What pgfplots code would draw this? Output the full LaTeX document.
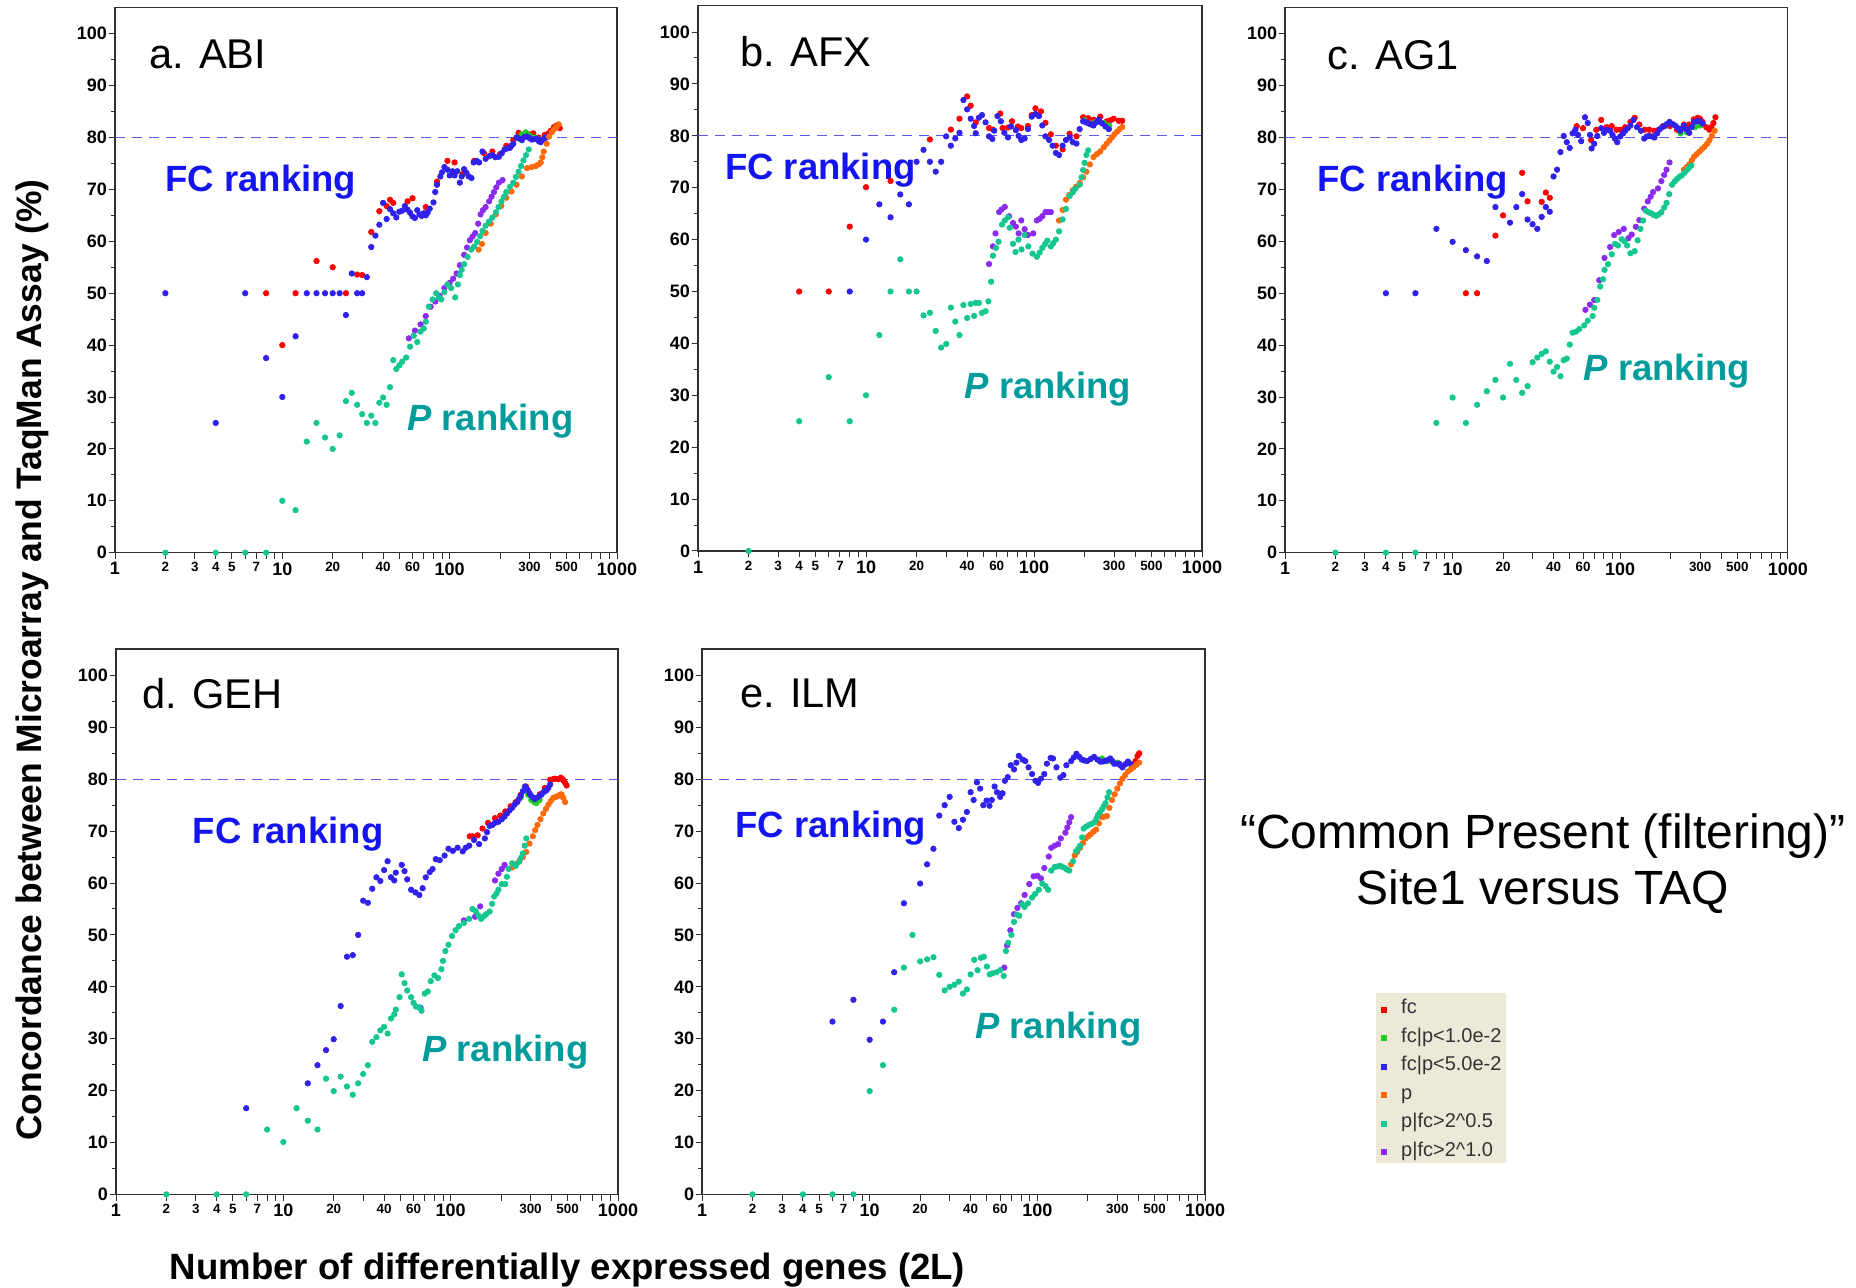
\documentclass[border=0pt]{standalone}
\usepackage{fontspec}
\setmainfont{Liberation Sans}
\usepackage{xcolor}
\usepackage{pgfplots}
\pgfplotsset{compat=1.18}

\definecolor{cFC}{HTML}{FF0000}
\definecolor{cG}{HTML}{22CC22}
\definecolor{cB}{HTML}{3022EA}
\definecolor{cO}{HTML}{FF6A08}
\definecolor{cT}{HTML}{14C690}
\definecolor{cPu}{HTML}{8B2BF0}
\definecolor{cFCtxt}{HTML}{1414F0}
\definecolor{cPtxt}{HTML}{009C9C}
\definecolor{axgray}{HTML}{303030}
\definecolor{dashc}{HTML}{5A5AE6}
\definecolor{legbg}{HTML}{ECE9D8}

\newcommand\XB[1]{{\fontsize{9}{9}\selectfont #1}}

\tikzset{
  ptitle/.style={anchor=base west, inner sep=0pt, font=\fontsize{20.8}{20.8}\selectfont},
  fclab/.style={anchor=base west, inner sep=0pt, text=cFCtxt, font=\bfseries\fontsize{18.25}{18.25}\selectfont},
  plab/.style={anchor=base west, inner sep=0pt, text=cPtxt, font=\bfseries\fontsize{18.25}{18.25}\selectfont},
}
\pgfplotsset{
  abpanel/.style={
    scale only axis, clip=false,
    xmin=1, xmax=1000, ymin=0, ymax=105.1,
    axis line style={draw=axgray, line width=0.6pt},
    tick align=outside, tick pos=left,
    major tick length=3.2pt, minor tick length=2pt,
    tick style={draw=axgray, line width=0.5pt},
    ytick={0,10,...,100}, minor ytick={5,15,...,95},
    xtick={1,2,3,4,5,6,7,8,9,10,20,30,40,50,60,70,80,90,100,200,300,400,500,600,700,800,900,1000},
    xticklabels={\XB{1},2,3,4,5,{},7,{},{},\XB{10},20,{},40,{},60,{},{},{},\XB{100},{},300,{},500,{},{},{},{},\XB{1000}},
    /pgf/number format/assume math mode=true,
    yticklabel style={font=\bfseries\fontsize{9}{9}\selectfont, inner xsep=0.6pt},
    xticklabel style={font=\bfseries\fontsize{6.7}{6.7}\selectfont, inner ysep=1.5pt},
  },
  sdot/.style={only marks, mark=*, mark size=1.35pt, color=#1, mark options={draw=none, fill=#1}, forget plot},
  refline/.style={dashc, line width=0.5pt, dash pattern=on 5pt off 3.5pt, forget plot},
}

\begin{document}
\begin{tikzpicture}
\path (0pt,0pt) rectangle (928pt,644pt);

% ---------------- a. ABI
\begin{semilogxaxis}[abpanel, at={(57.5pt,367.65pt)}, anchor=south west, width=251pt, height=272.7pt]
\addplot[refline] coordinates {(1,80) (1000,80)};
\addplot[sdot=cFC] coordinates {(8,50) (10,40) (12,50) (16,56.2) (20,55) (24,50) (28,53.6) (30,53.5) (34,61.8) (38,65.8) (42,66.8) (44,68) (46,67.4) (56,67.7) (60,68.3) (72,66.6) (84,71.5) (97,75.5) (107,75.2) (120,73) (140,75.5) (160,77) (180,77.3) (200,76.8) (218,78.4) (240,79.5) (258,80.9) (280,80.5) (300,80.6) (316,80.8) (340,80) (370,80.5) (390,80.8) (402,81.3) (420,82) (435,82.3) (447,82.5) (455,81.8)};
\addplot[sdot=cG] coordinates {(250,80) (270,80.6) (285,81) (300,80.4) (320,80) (340,79.6)};
\addplot[sdot=cB] coordinates {(2,50) (4,25) (6,50) (8,37.5) (10,30) (12,41.7) (14,50) (16,50) (18,50) (20,50) (22,50) (24,45.8) (26,53.8) (28,50) (30,50) (32,53.1) (34,58.9) (36,61.1) (38,63.2) (40,67.4) (42,64.3) (44,66.2) (46,65.4) (48,64.6) (50,65.7) (52,65.9) (54,66.8) (56,66.1) (58,65.5) (60,64.8) (62,64.5) (64,66) (66,65.2) (68,64.9) (70,65.4) (72,65.0) (74,65.6) (76,66.3) (80,67.5) (82,69.5) (84,70.9) (88,72.5) (90,73.3) (93,74.3) (97,73.8) (100,72.7) (104,73.5) (107,72.7) (111,73.5) (115,71.3) (118,72.5) (122,73.9) (126,73.2) (130,72.5) (135,72.2) (139,75.2) (145,75.5) (150,75.2) (157,77.3) (164,75.9) (172,76.4) (180,76.6) (188,76.2) (197,76.3) (205,77) (213,77.7) (221,77.9) (229,78) (235,78.5) (240,78.8) (251,80.0) (260,79.8) (270,79.5) (280,80.1) (290,80.2) (300,79.9) (310,79.6) (322,79.7) (333,79.8) (341,79.3) (350,79.1) (360,79.6) (370,79.8) (378,80.1) (385,80.2)};
\addplot[sdot=cO] coordinates {(149,58.4) (156,59.5) (164,61.6) (176,63.4) (189,65.2) (203,66.8) (218,68.4) (234,69.6) (251,70.9) (270,72.5) (290,74.1) (308,74.3) (326,74.5) (340,74.8) (350,75.2) (358,76.2) (365,77.3) (380,78.8) (393,80.2) (407,81) (420,81.6) (435,82.1) (447,82.5)};
\addplot[sdot=cPu] coordinates {(57,41.3) (62,42.8) (67,44) (72,45.6) (77,47.4) (82,48.4) (87,49.5) (93,51) (100,52) (105,52.8) (110,53.8) (115,55.4) (122,57.4) (127,58.8) (132,60.2) (137,60.9) (142,61.6) (148,63.4) (153,65.2) (158,66) (164,66.6) (172,67.7) (178,68.6) (184,69.5) (190,70.4) (197,71.3) (207,71.8)};
\addplot[sdot=cT] coordinates {(2,0) (4,0) (6,0) (8,0) (10,10) (12,8.2) (14,21.4) (16,25) (18,22.2) (20,20) (22,22.6) (24,29.2) (26,30.8) (28,28.5) (30,26.7) (32,25) (34,26.4) (36,25) (38,28.9) (40,29.9) (42,28.5) (44,31.9) (46,37.1) (48,35.4) (50,36.1) (52,36.8) (55,37.6) (58,39.7) (61,41.8) (64,40.6) (67,42.6) (70,43.2) (72,44.5) (75,47.4) (79,48.8) (83,50) (86,49.2) (89,48.8) (93,50.2) (97,51.7) (102,51) (108,49.2) (112,51.7) (115,53.5) (118,54.5) (122,55.6) (128,57) (135,58.4) (140,59) (146,59.9) (152,61) (157,62) (164,63) (172,63.8) (180,64.6) (189,65.6) (196,66.6) (204,67.7) (211,68.6) (218,69.5) (229,70.5) (240,71.3) (249,72.4) (258,73.4) (267,74.5) (276,75.6) (286,76.6) (297,77.7)};
\node[ptitle] at (rel axis cs:0.067,0.887) {a. ABI};
\node[fclab] at (rel axis cs:0.10,0.663) {FC ranking};
\node[plab] at (rel axis cs:0.581,0.224) {\textit{P} ranking};
\end{semilogxaxis}

% ---------------- b. AFX
\begin{semilogxaxis}[abpanel, at={(349pt,368.5pt)}, anchor=south west, width=252pt, height=272.7pt]
\addplot[refline] coordinates {(1,80) (1000,80)};
\addplot[sdot=cFC] coordinates {(4,50) (6,50) (8,62.5) (10,70.1) (14,71.3) (24,79.3) (32,81.2) (36,83.3) (40,87.6) (42,85.8) (45,82.6) (54,81.5) (57,81.2) (63,84.3) (65,81.5) (70,81.6) (74,82.8) (80,81.8) (84,81.5) (92,81.9) (97,84) (102,85.3) (110,84.7) (117,82.5) (126,80.3) (135,78.1) (148,77.4) (163,80.4) (179,79.9) (196,83.6) (210,83.4) (226,83.1) (248,83.7) (271,82.8) (285,83) (298,83.3) (320,82.9) (335,82.9)};
\addplot[sdot=cG] coordinates {(200,83) (230,82.6) (260,82.5) (280,82)};
\addplot[sdot=cB] coordinates {(8,50) (10,60) (12,66.8) (14,64.3) (16,68.7) (18,66.8) (20,75) (22,77.3) (24,75) (26,73.1) (28,75) (30,79.9) (32,78.1) (34,79.5) (36,80.6) (38,86.9) (40,85.1) (42,83.3) (44,81.9) (45,80.5) (47,83.5) (49,84) (51.5,82.6) (54,79.9) (56.5,79.4) (58,81) (60.6,83.8) (63.5,82.8) (66.6,80.6) (70,79.7) (73,81.8) (78,81.1) (81,80) (84,79.2) (88,79.5) (92,81.3) (97,83.7) (102,84.2) (107,83.8) (112,82) (117,79.9) (123,79.2) (129,78.1) (135,76.7) (141,76.3) (148,78.1) (155,79.2) (163,79.7) (170,78.8) (179,78.5) (187,81.3) (196,82.8) (204,82.6) (211,82.4) (218,82.2) (226,82) (235,82.6) (243,83.1) (254,82.4) (266,81.8) (279,81.3)};
\addplot[sdot=cO] coordinates {(141,63.7) (148,65.7) (155,67.7) (162,68.6) (170,69.5) (178,70.2) (187,70.9) (196,72) (205,73.1) (215,74.5) (226,75.9) (237,76.5) (248,77) (260,77.8) (271,78.5) (281,79.1) (291,79.7) (301,80.3) (312,80.8) (323,81.3) (335,81.7)};
\addplot[sdot=cPu] coordinates {(54,55.3) (57,58.7) (59,61.2) (62,65.3) (64,65.8) (67,66.3) (71,64.5) (75,63.2) (78,62.5) (81,61.2) (84,63.7) (88,62) (92,60.9) (99,61.2) (104,63.7) (108,64) (112,64.5) (117,65.3) (121,65.3) (126,65.3)};
\addplot[sdot=cT] coordinates {(2,0) (4,25) (6,33.5) (8,25) (10,30) (12,41.6) (14,50) (16,56.2) (18,50) (20,50) (22,45.4) (24,45.9) (26,42.4) (28,39.2) (30,39.9) (32,46.9) (34,44.2) (36,41.6) (38,47.4) (40,44.9) (42,47.6) (44,45.3) (45,47.8) (47,47.8) (49,45.9) (51.5,46.2) (53.5,48.1) (55.5,51.9) (57,56.9) (59.4,58.4) (61.5,59.6) (64.5,62.9) (67,63.7) (70,64.3) (71.7,62.3) (75,59.2) (77.6,57.6) (80.8,60) (84.3,58.1) (88,60.9) (92.5,58.7) (98,57.3) (104,56.7) (108,57.5) (112,58.4) (116,59.1) (120,59.8) (126,58.7) (130,59.3) (135,60) (141,61.6) (148,63.9) (155,65.9) (163,68.4) (170,69.1) (176,69.8) (187,70.6) (192,72) (196,73.4) (200,74.8) (205,76.3) (210,77.2)};
\node[ptitle] at (rel axis cs:0.083,0.888) {b. AFX};
\node[fclab] at (rel axis cs:0.053,0.681) {FC ranking};
\node[plab] at (rel axis cs:0.528,0.280) {\textit{P} ranking};
\end{semilogxaxis}

% ---------------- c. AG1
\begin{semilogxaxis}[abpanel, at={(642.5pt,367.65pt)}, anchor=south west, width=251.4pt, height=272.7pt]
\addplot[refline] coordinates {(1,80) (1000,80)};
\addplot[sdot=cFC] coordinates {(12,50) (14,50) (18,61.1) (20,65) (26,73.2) (28,67.7) (34,67.6) (36,69.4) (38,68.4) (55,82.2) (60,81.8) (67,79.5) (72,81.5) (77,83.4) (83,82) (89,82.2) (95,81.5) (100,81.5) (107,82) (115,83) (122,83.8) (130,82.5) (140,81.5) (149,81.5) (160,81.3) (170,81.5) (180,82.2) (198,82.2) (218,81.5) (240,82.5) (258,82.5) (275,83.5) (290,83.8) (300,83.6) (310,83) (326,82) (340,81.5) (350,82) (360,82.8) (370,83.9)};
\addplot[sdot=cG] coordinates {(229,80.8) (250,81) (280,82) (300,82.3)};
\addplot[sdot=cB] coordinates {(4,50) (6,50) (8,62.4) (10,59.9) (12,58.3) (14,57.1) (16,56.2) (18,66.6) (22,63.6) (24,66.6) (26,69.1) (28,64.2) (30,63.3) (32,62.4) (34,64.7) (36,66.6) (38,65.7) (40,72.5) (42,73.8) (44,77.2) (46,80.3) (48,79.1) (50,78) (52,80.8) (54,81.5) (56,80.5) (58.5,79.3) (61.6,83.9) (64,82.8) (66,80.5) (67.5,77.9) (70,78.8) (73,80.3) (77,81.8) (80,80.9) (83,81.5) (87,81.3) (90,80.5) (93,79.8) (96,79.1) (100,80.2) (104,80.8) (107,81.3) (111,81.8) (115,82.3) (120,83.4) (126,82) (133,81.3) (139,79.8) (144,80.2) (149,80.3) (155,80.2) (160,80) (166,80.8) (172,81.6) (178,82) (184,82.2) (190,82.6) (197,83) (205,82.6) (213,82.3) (221,81.8) (229,81.3) (235,81.8) (240,82.3) (250,81.5) (258,80.9) (267,82) (276,83) (287,83.1) (297,83.2) (310,82.7)};
\addplot[sdot=cO] coordinates {(240,73.8) (249,74.3) (258,74.8) (267,75.6) (276,76.3) (286,76.8) (297,77.3) (308,77.8) (318,78.2) (330,78.8) (341,79.5) (352,80.3) (366,81.3)};
\addplot[sdot=cPu] coordinates {(62,46.8) (66,47.8) (70,48.7) (75,52.5) (80.6,56.8) (87,58.9) (92,61.2) (98,61.8) (105,62.4) (112,60.6) (117,61.3) (124,62.8) (130,64.1) (139,66.3) (146,67.7) (152,68.6) (157,69.5) (168,70.2) (176,71.6) (183,72.8) (189,73.8) (197,75.2)};
\addplot[sdot=cT] coordinates {(2,0) (4,0) (6,0) (8,25) (10,29.9) (12,25) (14,28.5) (16,31.1) (18,33.3) (20,29.9) (22,36.4) (24,33.3) (26,30.8) (28,32.1) (30,36.7) (32,37.6) (34,38.3) (36,38.8) (38,36.8) (40,34.9) (42,35.8) (44,34) (46,37.1) (48,37.4) (50,40.1) (52,42.4) (54.5,42.6) (57,43.1) (61,43.8) (64,44.7) (68.5,45.6) (70,47.2) (73,48.7) (76,51.3) (79,52.7) (80.6,54.5) (84.5,55.6) (89,57.5) (93,59.5) (97,59.2) (102,60.4) (106,60) (110,59.2) (115,57.7) (122,58.1) (127,60.2) (132,62.4) (137,64) (142,65.9) (148,65.6) (153,65.4) (158,65.1) (164,64.9) (170,65.2) (176,65.6) (183,66.5) (189,67.4) (196,69.1) (204,70.9) (211,71.5) (218,72) (225,72.4) (233,72.7) (242,73.2) (251,73.8) (258,74.2) (265,74.6)};
\node[ptitle] at (rel axis cs:0.084,0.886) {c. AG1};
\node[fclab] at (rel axis cs:0.064,0.663) {FC ranking};
\node[plab] at (rel axis cs:0.593,0.315) {\textit{P} ranking};
\end{semilogxaxis}

% ---------------- d. GEH
\begin{semilogxaxis}[abpanel, at={(58pt,46.8pt)}, anchor=south west, width=251pt, height=272.7pt]
\addplot[refline] coordinates {(1,80) (1000,80)};
\addplot[sdot=cFC] coordinates {(130,69) (135,69) (145,69.2) (155,70.5) (167,71.6) (184,72.5) (198,73) (212,73.8) (228,74.8) (245,75.6) (262,77) (282,78.6) (341,77.1) (365,78.3) (393,79.9) (408,80) (420,80.1) (438,80) (455,80.3) (465,80) (474,79.7) (483,79.3) (493,78.8)};
\addplot[sdot=cG] coordinates {(262,76.5) (280,78) (290,77) (303,76) (315,75.6) (325,75.4) (340,76)};
\addplot[sdot=cB] coordinates {(6,16.6) (14,21.4) (16,24.9) (18,27.8) (20,29.9) (22,36.3) (24,45.8) (26,46.1) (28,50) (30,56.6) (32,56.2) (34,58.9) (36,61.1) (38,60.4) (40,62.5) (42,64.2) (44,61.1) (46,60.5) (47,62) (51,63.5) (53,62.3) (55,60.7) (58,58.7) (61.6,58.2) (65,57.7) (68,59) (71,61.1) (75,62.1) (78,62.7) (81.5,64.6) (86,64.4) (92,65.3) (97,66.6) (103,66.2) (110,66.8) (118,66.1) (123,66.8) (129,67.2) (138,68.3) (148,67.5) (160,68.6) (165,69.8) (171,71) (178,71.2) (184,71.6) (193,71.8) (202,72.3) (210,72.8) (217,73.4) (225,74) (233,74.5) (241,75.1) (250,75.6) (256,76.2) (262,76.8) (270,77.7) (278,78.6) (284,78.2) (289,77.9) (296,77.3) (303,76.8) (310,76.5) (318,76.2) (330,76.5) (341,76.8) (350,77.1) (358,77.5) (366,77.7) (375,77.9) (384,78.4) (393,79)};
\addplot[sdot=cO] coordinates {(233,63) (245,63.6) (258,64.3) (270,65) (283,66) (296,67.6) (310,69) (320,70.2) (330,71.2) (344,72.3) (358,73.4) (371,74.3) (384,75.1) (397,75.8) (410,76.4) (425,76.6) (440,76.8) (450,77) (459,77.1) (471,76.4) (483,75.6)};
\addplot[sdot=cPu] coordinates {(66,36) (120,52.8) (140,53.5) (150,55.5) (184,60.5) (193,61.8) (202,62.7) (210,63.5)};
\addplot[sdot=cT] coordinates {(2,0) (4,0) (6,0) (8,12.5) (10,10.1) (12,16.6) (14,14.2) (16,12.5) (18,22.3) (20,19.9) (22,22.7) (24,20.8) (26,19.2) (28,21.4) (30,23.2) (32,24.9) (34,29.4) (36,30.3) (38,31.6) (40,32.3) (42,31) (44,33.9) (46,34.7) (47,35.6) (49.5,38) (51,42.4) (53,40.7) (55,39.3) (58,38) (60,36.9) (62,36.2) (65,36) (67,35.4) (70,38.7) (73,39.1) (76,41.1) (80,42.2) (84,41.7) (88,43.4) (90,45) (93,46.9) (97,48.1) (102,49.8) (107,50.9) (112,51.7) (120,52.3) (129,53.1) (135,55) (141,54.6) (146,53.8) (152,53.1) (158,53.6) (163,54) (171,54.5) (177,56) (182,57.4) (188,58) (193,58.7) (202,59.8) (212,59.8) (217,61.2) (222,62.7) (233,63.8) (245,63.3) (257,64.1) (264,64.9) (270,65.7) (277,67.2) (283,68.6)};
\node[ptitle] at (rel axis cs:0.051,0.891) {d. GEH};
\node[fclab] at (rel axis cs:0.152,0.644) {FC ranking};
\node[plab] at (rel axis cs:0.609,0.244) {\textit{P} ranking};
\end{semilogxaxis}

% ---------------- e. ILM
\begin{semilogxaxis}[abpanel, at={(351pt,46.8pt)}, anchor=south west, width=251.5pt, height=272.7pt,
  legend style={at={(1.34,0.3698)}, anchor=north west, fill=legbg, draw=none,
    font=\fontsize{10}{10}\selectfont, text=black!80, inner xsep=2.1pt, inner ysep=1.5pt,
    row sep=3.5pt, /tikz/every odd column/.append style={column sep=7.4pt},
    nodes={inner sep=0pt, anchor=base west, text height=8.8pt, text depth=1.95pt}},
  legend cell align=left,
  legend image code/.code={\fill[#1] (0pt,0.75pt) rectangle (2.5pt,3.25pt);}]
\addlegendimage{cFC}\addlegendentry{fc}
\addlegendimage{cG}\addlegendentry{fc|p<1.0e-2}
\addlegendimage{cB}\addlegendentry{fc|p<5.0e-2}
\addlegendimage{cO}\addlegendentry{p}
\addlegendimage{cT}\addlegendentry{p|fc>2\^{}0.5}
\addlegendimage{cPu}\addlegendentry{p|fc>2\^{}1.0}
\addplot[refline] coordinates {(1,80) (1000,80)};
\addplot[sdot=cFC] coordinates {(375,82.7) (385,83.5) (396,84.5) (405,85)};
\addplot[sdot=cG] coordinates {(243,84) (260,83.5) (278,83.5) (300,83.2)};
\addplot[sdot=cB] coordinates {(6,33.3) (8,37.5) (10,29.8) (12,33.3) (14,42.8) (16,56.1) (20,59.9) (22,63.6) (24,66.6) (26,73) (28,75) (30,76.6) (32,71.8) (34,70.6) (36,72.2) (38,73.7) (40,77.5) (41.7,76) (43.6,79.4) (45.6,78.2) (47.6,75) (49.8,75.9) (51.8,74.9) (53.5,76) (55.6,78.6) (57.5,77.5) (60,76.6) (62,77.3) (64,79.7) (66.6,80.4) (69.4,82.7) (72.6,81.9) (75,83.2) (77.5,84.5) (81.5,83.8) (84.7,83.5) (88.6,82.3) (93,81) (97.5,79.7) (101,79.3) (105,80.1) (110,81) (114,83) (120,84.1) (124,84) (130,82.3) (137,80.3) (143,80.8) (149,82.7) (159,83.5) (165,84.2) (171,84.9) (178,84.3) (184,83.8) (191,83.6) (198,83.5) (208,83.9) (218,84.3) (228,83.8) (237,83.4) (245,83.4) (253,83.5) (262,83.7) (272,84) (280,83.5) (287,83) (298,83) (308,83) (315,82.6) (322,82.3) (335,82.9) (347,83.4) (357,83) (367,82.7)};
\addplot[sdot=cO] coordinates {(159,63.6) (167,65.3) (173,66) (180,66.8) (187,67.7) (194,68.6) (201,69) (208,69.4) (216,69.9) (224,70.3) (233,71.5) (243,72.7) (251,72.8) (260,72.9) (269,74.5) (279,76) (289,77.1) (300,78.2) (311,79.2) (322,80.1) (334,80.8) (347,81.5) (361,81.9) (375,82.3) (390,82.8) (405,83.2)};
\addplot[sdot=cPu] coordinates {(63.5,43.7) (66,48) (69,50.9) (72.6,54) (76,55.2) (80,56.1) (84,57.7) (89.5,59.8) (95,61.3) (100,61.4) (105,60.9) (110,62.9) (117,65.1) (121,66.8) (127,67.2) (133,67.5) (138,68.6) (147,69.7) (151,70.7) (155,71.7) (159,72.7)};
\addplot[sdot=cT] coordinates {(2,0) (4,0) (6,0) (8,0) (10,19.9) (12,24.9) (14,35.6) (16,43.7) (18,50) (20,44.9) (22,45.3) (24,45.7) (26,42.3) (28,39.3) (30,40) (32,40.4) (34,41) (36,38.7) (38,39.5) (40,42.4) (42,45.2) (44,43.2) (46,45.6) (48,45.8) (50,43.9) (52,42.4) (54,42.6) (57,42.8) (60,43.2) (63,42.1) (65,46.9) (67,48.5) (70,50) (72.6,52.5) (75.5,53.9) (78,53.7) (81,55.9) (84,55.4) (88,56.1) (93,57.2) (97,57.9) (102,58.7) (107,59.9) (112,59.4) (116,58.7) (121,62.4) (127,63.1) (132,63.2) (137,63.3) (141,63.1) (146,62.9) (150,62.6) (155,62.4) (163,64.2) (170,66.1) (175,66.6) (180,67.2) (185,68.8) (189,70.5) (196,70.9) (203,71.2) (211,71.4) (219,71.7) (225,72.4) (230,73.1) (236,73.6) (243,74.2) (249,74.8) (255,75.4) (262,76.5) (268,77.5)};
\node[ptitle] at (rel axis cs:0.075,0.892) {e. ILM};
\node[fclab] at (rel axis cs:0.066,0.654) {FC ranking};
\node[plab] at (rel axis cs:0.542,0.285) {\textit{P} ranking};
\end{semilogxaxis}

% figure-level texts
\node[rotate=90, anchor=base, inner sep=0pt, font=\bfseries\fontsize{17.7}{17.7}\selectfont] at (20.8pt,314pt) {Concordance between Microarray and TaqMan Assay (\%)};
\node[anchor=base, inner sep=0pt, font=\bfseries\fontsize{18.3}{18.3}\selectfont] at (283.75pt,4.2pt) {Number of differentially expressed genes (2L)};
\node[anchor=base, inner sep=0pt, font=\fontsize{24}{24}\selectfont] at (771.5pt,219.5pt) {“Common Present (filtering)”};
\node[anchor=base, inner sep=0pt, font=\fontsize{24}{24}\selectfont] at (771.5pt,191.5pt) {Site1 versus TAQ};
\end{tikzpicture}
\end{document}
